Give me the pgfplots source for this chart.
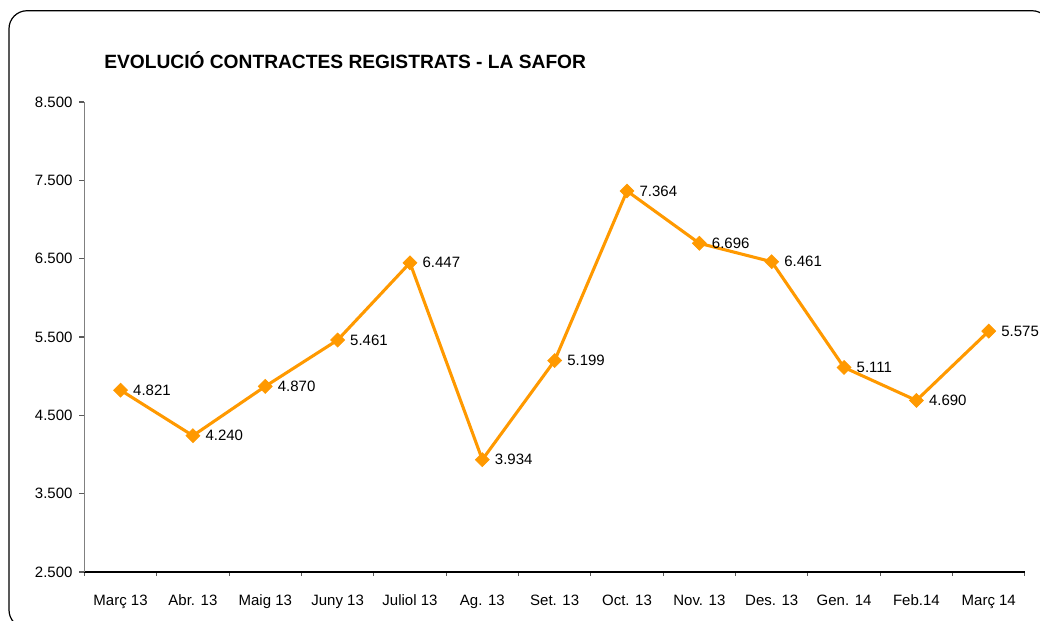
\documentclass[border=0pt]{standalone}
\usepackage{pgfplots}
\pgfplotsset{compat=1.18}
\usepackage{fontspec}
\setmainfont{Liberation Sans}
\definecolor{exorange}{HTML}{FF9900}
\begin{document}
\begin{tikzpicture}[x=1pt,y=1pt]
\useasboundingbox (0,0) rectangle (780,465.75);
\draw[line width=0.9pt, rounded corners=13.5pt] (6.75,-5.25) rectangle (787.5,457.7);
\node[anchor=base west, font=\bfseries\fontsize{14.4}{16}\selectfont, inner sep=0] at (78,414.4) {EVOLUCIÓ CONTRACTES REGISTRATS - LA SAFOR};
\begin{axis}[
  at={(63.3pt,36.75pt)}, anchor=south west,
  scale only axis, width=705.4pt, height=352.5pt,
  xmin=-0.5, xmax=12.5, ymin=2500, ymax=8500,
  axis lines*=left,
  x axis line style={black, line width=0.8pt},
  y axis line style={gray, line width=0.9pt},
  tick align=outside,
  xtick={0,...,12},
  xticklabels={Març 13, Abr. 13, Maig 13, Juny 13, Juliol 13, Ag. 13, Set. 13, Oct. 13, Nov. 13, Des. 13, Gen. 14, Feb.14, Març 14},
  major x tick style={draw=none},
  minor xtick={-0.5,0.5,...,12.5},
  minor tick length=3pt,
  minor x tick style={gray!70!black, line width=0.8pt},
  ytick={2500,3500,...,8500},
  major tick length=3.75pt,
  major y tick style={gray!70!black, line width=0.8pt},
  scaled y ticks=false,
  /pgf/number format/assume math mode=true,
  /pgf/number format/fixed,
  /pgf/number format/1000 sep={.},
  ticklabel style={font=\fontsize{11.25}{13}\selectfont, text=black},
  xticklabel style={anchor=base, inner sep=0pt, yshift=-21.75pt},
  yticklabel style={anchor=east, inner sep=0pt, xshift=-5pt},
  clip=false,
]
\addplot[color=exorange, line width=2.3pt, mark=square*, mark size=3.7pt,
  mark options={rotate=45, fill=exorange, draw=exorange, line width=0.5pt},
  nodes near coords={\pgfmathprintnumber[fixed,1000 sep={.}]{\pgfplotspointmeta}},
  every node near coord/.append style={anchor=west, inner sep=0pt, xshift=9.2pt, text=black, font=\fontsize{11.25}{13}\selectfont},
] coordinates {
(0,4821) (1,4240) (2,4870) (3,5461) (4,6447) (5,3934) (6,5199) (7,7364) (8,6696) (9,6461) (10,5111) (11,4690) (12,5575)
};
\end{axis}
\end{tikzpicture}
\end{document}
